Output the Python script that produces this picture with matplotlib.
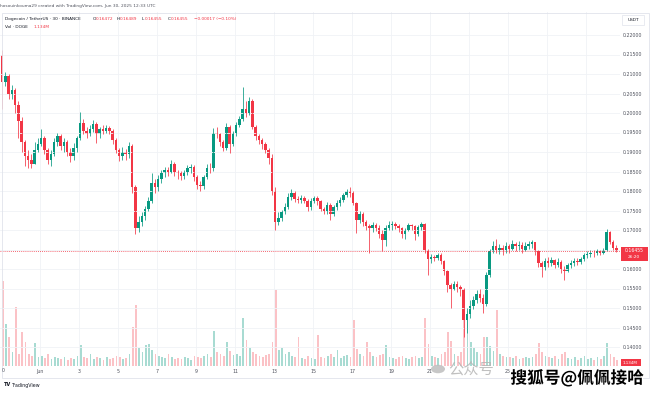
import numpy as np
import matplotlib.pyplot as plt
import matplotlib.patheffects as pe
from matplotlib.patches import Rectangle, Circle

# DOGE / USDT, 4h candles from May 30 00:00 UTC to Jun 30 12:00 UTC
first_open = 0.2150
closes = [
    0.2080, 0.2095, 0.2050, 0.2060, 0.2020, 0.1980,
    0.1925, 0.1890, 0.1880, 0.1870, 0.1905, 0.1920,
    0.1935, 0.1905, 0.1880, 0.1895, 0.1925, 0.1940,
    0.1915, 0.1925, 0.1900, 0.1890, 0.1910, 0.1935,
    0.1975, 0.1955, 0.1945, 0.1960, 0.1972, 0.1945,
    0.1960, 0.1955, 0.1962, 0.1955, 0.1930, 0.1905,
    0.1890, 0.1900, 0.1895, 0.1915, 0.1810, 0.1705,
    0.1720, 0.1735, 0.1755, 0.1775, 0.1820, 0.1810,
    0.1830, 0.1845, 0.1855, 0.1850, 0.1870, 0.1848,
    0.1845, 0.1838, 0.1848, 0.1860, 0.1862, 0.1835,
    0.1815, 0.1812, 0.1835, 0.1860, 0.1858, 0.1950,
    0.1945, 0.1925, 0.1910, 0.1965, 0.1920, 0.1948,
    0.1970, 0.1985, 0.2010, 0.2000, 0.2030, 0.1965,
    0.1940, 0.1930, 0.1920, 0.1905, 0.1885, 0.1800,
    0.1720, 0.1730, 0.1745, 0.1760, 0.1785, 0.1795,
    0.1780, 0.1778, 0.1782, 0.1775, 0.1760, 0.1775,
    0.1783, 0.1775, 0.1755, 0.1748, 0.1765, 0.1740,
    0.1760, 0.1770, 0.1778, 0.1790, 0.1800, 0.1795,
    0.1770, 0.1725, 0.1740, 0.1720, 0.1710, 0.1705,
    0.1712, 0.1705, 0.1690, 0.1675, 0.1705, 0.1712,
    0.1715, 0.1710, 0.1705, 0.1690, 0.1700, 0.1712,
    0.1710, 0.1690, 0.1708, 0.1715, 0.1650, 0.1625,
    0.1630, 0.1628, 0.1635, 0.1620, 0.1595, 0.1560,
    0.1550, 0.1562, 0.1555, 0.1548, 0.1470, 0.1485,
    0.1505, 0.1520, 0.1535, 0.1525, 0.1510, 0.1585,
    0.1645, 0.1660, 0.1650, 0.1655, 0.1648, 0.1660,
    0.1652, 0.1665, 0.1658, 0.1662, 0.1650, 0.1660,
    0.1665, 0.1668, 0.1645, 0.1615, 0.1605, 0.1620,
    0.1615, 0.1622, 0.1610, 0.1618, 0.1600, 0.1595,
    0.1610, 0.1615, 0.1620, 0.1618, 0.1625, 0.1635,
    0.1638, 0.1642, 0.1640, 0.1645, 0.1642, 0.1648,
    0.1695, 0.1670, 0.1655, 0.16455,
]
highs = [
    0.2162, 0.2105, 0.2100, 0.2072, 0.2065, 0.2030,
    0.1990, 0.1930, 0.1905, 0.1895, 0.1925, 0.1935,
    0.1958, 0.1940, 0.1910, 0.1905, 0.1935, 0.1948,
    0.1945, 0.1935, 0.1930, 0.1910, 0.1922, 0.1942,
    0.2003, 0.1985, 0.1965, 0.1970, 0.1982, 0.1978,
    0.1965, 0.1968, 0.1968, 0.1966, 0.1958, 0.1935,
    0.1910, 0.1912, 0.1908, 0.1925, 0.1920, 0.1815,
    0.1735, 0.1745, 0.1762, 0.1785, 0.1846, 0.1830,
    0.1840, 0.1855, 0.1862, 0.1862, 0.1880, 0.1875,
    0.1855, 0.1852, 0.1855, 0.1866, 0.1870, 0.1866,
    0.1840, 0.1825, 0.1842, 0.1868, 0.1872, 0.1962,
    0.1965, 0.1950, 0.1930, 0.1975, 0.1968, 0.1955,
    0.1978, 0.1992, 0.2067, 0.2030, 0.2042, 0.2035,
    0.1970, 0.1945, 0.1935, 0.1925, 0.1910, 0.1895,
    0.1810, 0.1745, 0.1752, 0.1768, 0.1795, 0.1805,
    0.1800, 0.1788, 0.1790, 0.1788, 0.1780, 0.1782,
    0.1788, 0.1788, 0.1778, 0.1760, 0.1772, 0.1768,
    0.1765, 0.1778, 0.1785, 0.1795, 0.1805, 0.1810,
    0.1800, 0.1772, 0.1748, 0.1745, 0.1725, 0.1715,
    0.1720, 0.1718, 0.1712, 0.1700, 0.1712, 0.1722,
    0.1722, 0.1720, 0.1715, 0.1708, 0.1705, 0.1718,
    0.1715, 0.1712, 0.1712, 0.1720, 0.1718, 0.1652,
    0.1638, 0.1636, 0.1640, 0.1642, 0.1622, 0.1598,
    0.1565, 0.1570, 0.1568, 0.1560, 0.1552, 0.1500,
    0.1520, 0.1532, 0.1545, 0.1548, 0.1535, 0.1592,
    0.1652, 0.1672, 0.1676, 0.1665, 0.1662, 0.1668,
    0.1665, 0.1674, 0.1670, 0.1672, 0.1668, 0.1668,
    0.1672, 0.1675, 0.1670, 0.1648, 0.1620, 0.1628,
    0.1630, 0.1630, 0.1625, 0.1628, 0.1622, 0.1608,
    0.1615, 0.1622, 0.1628, 0.1628, 0.1632, 0.1642,
    0.1645, 0.1648, 0.1650, 0.1652, 0.1650, 0.1655,
    0.1702, 0.1698, 0.1675, 0.1662,
]
lows = [
    0.2010, 0.2070, 0.2035, 0.2035, 0.2000, 0.1936,
    0.1900, 0.1865, 0.1860, 0.1858, 0.1868, 0.1900,
    0.1915, 0.1895, 0.1870, 0.1865, 0.1890, 0.1915,
    0.1905, 0.1900, 0.1890, 0.1875, 0.1880, 0.1900,
    0.1930, 0.1945, 0.1935, 0.1942, 0.1952, 0.1923,
    0.1935, 0.1945, 0.1948, 0.1945, 0.1920, 0.1898,
    0.1878, 0.1880, 0.1880, 0.1885, 0.1795, 0.1690,
    0.1695, 0.1710, 0.1725, 0.1748, 0.1770, 0.1795,
    0.1800, 0.1820, 0.1835, 0.1838, 0.1845, 0.1838,
    0.1830, 0.1828, 0.1832, 0.1840, 0.1845, 0.1825,
    0.1805, 0.1800, 0.1805, 0.1830, 0.1845, 0.1852,
    0.1935, 0.1915, 0.1902, 0.1905, 0.1897, 0.1915,
    0.1942, 0.1965, 0.1980, 0.1990, 0.1995, 0.1960,
    0.1930, 0.1920, 0.1908, 0.1898, 0.1870, 0.1790,
    0.1700, 0.1712, 0.1722, 0.1740, 0.1755, 0.1778,
    0.1772, 0.1768, 0.1770, 0.1768, 0.1750, 0.1752,
    0.1768, 0.1765, 0.1748, 0.1740, 0.1742, 0.1726,
    0.1735, 0.1752, 0.1762, 0.1772, 0.1785, 0.1785,
    0.1765, 0.1692, 0.1718, 0.1710, 0.1700, 0.1641,
    0.1695, 0.1698, 0.1680, 0.1645, 0.1660, 0.1700,
    0.1700, 0.1702, 0.1695, 0.1680, 0.1678, 0.1698,
    0.1700, 0.1674, 0.1685, 0.1700, 0.1640, 0.1585,
    0.1615, 0.1620, 0.1622, 0.1612, 0.1585, 0.1540,
    0.1500, 0.1545, 0.1540, 0.1530, 0.1425, 0.1436,
    0.1475, 0.1498, 0.1512, 0.1515, 0.1488, 0.1505,
    0.1580, 0.1640, 0.1640, 0.1638, 0.1635, 0.1642,
    0.1640, 0.1648, 0.1645, 0.1650, 0.1640, 0.1645,
    0.1652, 0.1655, 0.1635, 0.1605, 0.1580, 0.1598,
    0.1605, 0.1608, 0.1602, 0.1605, 0.1590, 0.1572,
    0.1592, 0.1602, 0.1608, 0.1610, 0.1612, 0.1620,
    0.1628, 0.1632, 0.1632, 0.1635, 0.1635, 0.1638,
    0.1645, 0.1665, 0.1648, 0.1644,
]
# volume, millions of DOGE per 4h candle
volumes = [
    850, 420, 290, 140, 590, 120,
    340, 240, 120, 100, 230, 90,
    100, 80, 120, 70, 90, 80,
    70, 90, 60, 80, 70, 100,
    210, 90, 80, 120, 70, 90,
    80, 60, 90, 70, 80, 100,
    90, 70, 80, 120, 390, 610,
    180, 140, 210, 220, 160, 120,
    100, 90, 80, 120, 90, 70,
    80, 70, 90, 80, 60, 100,
    90, 80, 100, 120, 90, 350,
    140, 120, 100, 240, 150, 110,
    120, 100, 480, 260, 180, 140,
    120, 100, 90, 110, 120, 240,
    760, 160, 180, 120, 140, 100,
    90, 290, 80, 70, 100, 80,
    70, 310, 90, 80, 100, 120,
    90, 160, 80, 100, 110, 90,
    460, 170, 120, 100, 240, 140,
    100, 90, 110, 120, 210, 90,
    80, 70, 90, 100, 80, 70,
    90, 100, 80, 90, 480, 220,
    100, 90, 80, 120, 140, 340,
    250, 120, 100, 140, 750, 550,
    240, 180, 140, 120, 290, 290,
    200, 150, 560, 120, 100, 90,
    90, 80, 100, 70, 80, 90,
    80, 90, 120, 230, 140, 100,
    90, 80, 100, 70, 120, 140,
    80, 70, 90, 60, 80, 100,
    70, 80, 60, 90, 70, 100,
    230, 120, 90, 60,
]
# labels for 23, 27 and 29 sit under the watermark in the original
day_ticks = [2, 4, 6, 8, 10, 12, 14, 16, 18, 20, 22, 26]
day_labels = ["Jun", "3", "5", "7", "9", "11", "13", "15", "17", "19", "21", "25"]
grid_days = [2, 4, 6, 8, 10, 12, 14, 16, 18, 20, 22, 24, 26, 28, 30]
price_ticks = [0.140, 0.145, 0.150, 0.155, 0.160, 0.165, 0.170, 0.175,
               0.180, 0.185, 0.190, 0.195, 0.200, 0.205, 0.210, 0.215, 0.220]
last_price = 0.16455

UP = "#089981"
DOWN = "#f23645"
W, H = 650, 394


def fx(x):
    return x / W


def fy(y):
    return 1 - y / H


plt.rcParams['font.family'] = ['DejaVu Sans', 'Noto Sans CJK SC']

fig = plt.figure(figsize=(6.5, 3.94), dpi=100)

rect = [0, 28 / H, 620 / W, 354 / H]
vax = fig.add_axes(rect)
ax = fig.add_axes(rect, sharex=vax)
ax.patch.set_visible(False)

t = np.arange(len(closes)) / 6.0
opens = np.array([first_open] + closes[:-1])
c = np.array(closes)
up = c >= opens
cols = np.where(up, UP, DOWN)

# volume behind the candles
vcols = [(0.03, 0.6, 0.5, 0.35) if u else (0.95, 0.21, 0.27, 0.3) for u in up]
vax.bar(t + 1 / 24, volumes, width=1 / 6 * 0.55, color=vcols, linewidth=0, align='edge')
vax.set_ylim(0, 3540)
vax.axis('off')

# candles
bw = 1 / 6 * 0.7
ax.vlines(t + bw / 2, lows, highs, colors=cols, linewidth=0.55)
body = c - opens
body = np.where(np.abs(body) < 0.0002, np.sign(body + 1e-12) * 0.0002, body)
ax.bar(t, body, bottom=opens, width=bw, color=cols, linewidth=0, align='edge')

ax.axhline(last_price, color=DOWN, lw=0.6, ls=(0, (1, 1.5)))

ax.set_xlim(-1 / 19.5, 619 / 19.5)
y0 = 0.14 + (347 - 366) / 3900
y1 = 0.14 + (347 - 12) / 3900
ax.set_ylim(y0, y1)

ax.yaxis.tick_right()
ax.set_yticks(price_ticks)
ax.set_yticklabels(["%.5f" % p for p in price_ticks])
ax.tick_params(axis='y', length=0, pad=2.2, labelsize=3.4, labelcolor='#50535e')
ax.set_xticks(day_ticks)
ax.set_xticklabels(day_labels)
ax.tick_params(axis='x', length=0, pad=2.0, labelsize=3.4, labelcolor='#50535e')
ax.grid(True, axis='y', color='#f0f2f6', lw=0.6)
for d in grid_days:
    ax.axvline(d, color='#f0f2f6', lw=0.6, zorder=0)
for s in ax.spines.values():
    s.set_visible(False)

# chart frame
fig.patches.append(Rectangle((fx(1.5), fy(378)), fx(647), 365 / H, transform=fig.transFigure,
                             fill=False, ec='#e0e3eb', lw=0.6))

fig.text(fx(3), fy(371), "0", fontsize=3.4, color='#50535e', ha='center', va='center')

# header
fig.text(fx(0.5), fy(6.5), "hosouinkouma29 created with TradingView.com, Jun 30, 2025 12:33 UTC",
         fontsize=3.1, color='#50535e', va='center')
fig.text(fx(5), fy(19), "Dogecoin / TetherUS \u00b7 30 \u00b7 BINANCE", fontsize=3.1,
         color='#131722', va='center')
for xx, lab, val in [(93, "O", "0.16472"), (117, "H", "0.16489"), (142, "L", "0.16455"),
                     (168, "C", "0.16455")]:
    fig.text(fx(xx), fy(19), lab, fontsize=3.1, color='#131722', va='center')
    fig.text(fx(xx + 2.6), fy(19), val, fontsize=3.1, color=DOWN, va='center')
fig.text(fx(194), fy(19), "\u22120.00017 (\u22120.10%)", fontsize=3.1, color=DOWN, va='center')
fig.text(fx(5), fy(27), "Vol \u00b7 DOGE", fontsize=3.1, color='#131722', va='center')
fig.text(fx(33), fy(27), "1.134M", fontsize=3.1, color=DOWN, va='center')

# price-scale widgets
fig.patches.append(Rectangle((fx(622), fy(25)), fx(22), 10 / H, transform=fig.transFigure,
                             fc='white', ec='#e0e3eb', lw=0.5))
fig.text(fx(633), fy(20), "USDT", fontsize=3.1, color='#131722', ha='center', va='center')
fig.patches.append(Rectangle((fx(620.5), fy(261)), fx(27.5), 14 / H, transform=fig.transFigure,
                             fc=DOWN, ec='none', zorder=5))
fig.text(fx(634), fy(251), "0.16455", fontsize=3.3, color='white', ha='center', va='center',
         zorder=6)
fig.text(fx(634), fy(257), "26:20", fontsize=3.1, color='white', ha='center', va='center',
         zorder=6)
fig.patches.append(Rectangle((fx(620.5), fy(366)), fx(20), 7 / H, transform=fig.transFigure,
                             fc=DOWN, ec='none', zorder=5))
fig.text(fx(630.5), fy(362.5), "1.134M", fontsize=3.0, color='white', ha='center', va='center',
         zorder=6)

# TradingView mark
fig.text(fx(4), fy(385), "TV", fontsize=3.6, color='#131722', weight='bold', va='center')
fig.text(fx(12), fy(385), "TradingView", fontsize=3.4, color='#131722', va='center')

# watermarks
fig.patches.append(Circle((fx(438), fy(369)), 7 / W, transform=fig.transFigure,
                          fc='#bdbdbd', ec='none', alpha=0.85))
fig.text(fx(448), fy(370), "公众号", fontsize=11, color='#b5b5b5', alpha=0.85, va='center',
         family=['Noto Sans CJK SC', 'DejaVu Sans'])
fig.text(fx(577), fy(378), "搜狐号@佩佩接哈", fontsize=12, color='black', weight='bold',
         ha='center', va='center', family=['Noto Sans CJK SC', 'DejaVu Sans'],
         path_effects=[pe.withStroke(linewidth=2, foreground='white')])

fig.savefig("out.png", dpi=100)
